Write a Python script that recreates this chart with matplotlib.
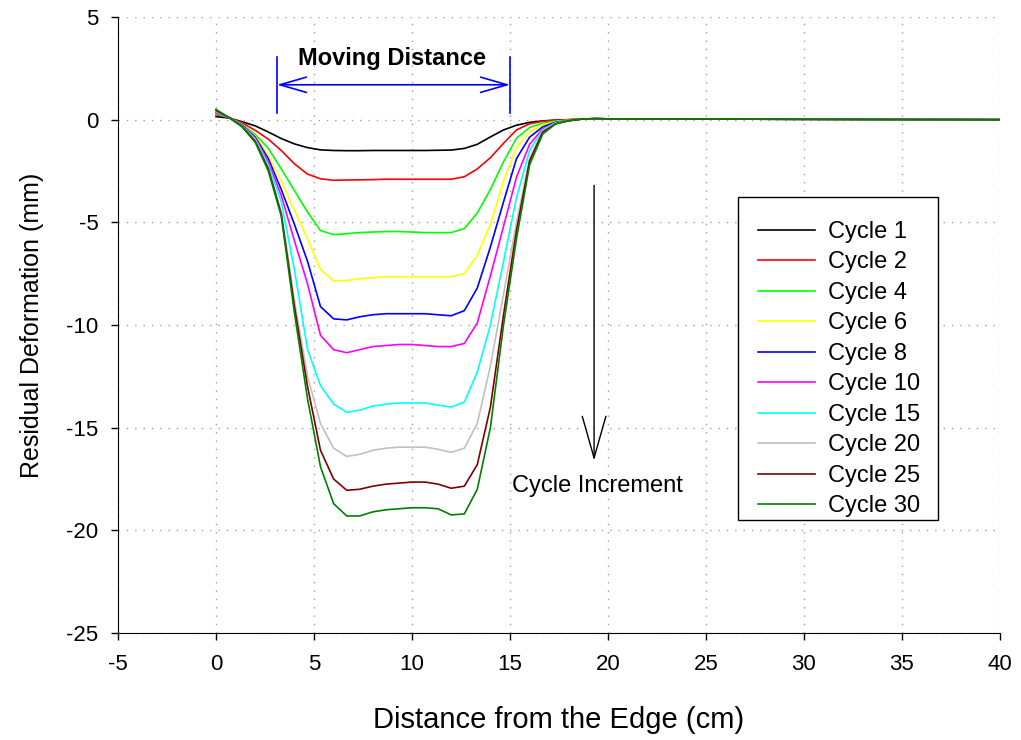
import matplotlib
matplotlib.use('agg')
import matplotlib.pyplot as plt
from matplotlib.patches import Rectangle

plt.rcParams['font.family'] = ['Liberation Sans', 'DejaVu Sans']
plt.rcParams['axes.unicode_minus'] = False

# distance from the edge (cm), one reading every 2/3 cm, plus the far end
dist = [0, 0.67, 1.33, 2, 2.67, 3.33, 4, 4.67, 5.33, 6, 6.67, 7.33, 8, 8.67,
        9.33, 10, 10.67, 11.33, 12, 12.67, 13.33, 14, 14.67, 15.33, 16, 16.67,
        17.33, 18, 18.67, 19.33, 20, 40]

labels = ['Cycle 1', 'Cycle 2', 'Cycle 4', 'Cycle 6', 'Cycle 8',
          'Cycle 10', 'Cycle 15', 'Cycle 20', 'Cycle 25', 'Cycle 30']
colors = ['#000000', '#ff0000', '#00ff00', '#ffff00', '#0000ff',
          '#ff00ff', '#00ffff', '#c0c0c0', '#800000', '#008000']

# residual deformation (mm)
cycle_1 = [0.15, 0.08, -0.1, -0.3, -0.6, -0.92, -1.18, -1.36, -1.47, -1.5, -1.51, -1.51,
           -1.5, -1.5, -1.5, -1.5, -1.5, -1.49, -1.48, -1.4, -1.2, -0.84, -0.5, -0.27,
           -0.13, -0.06, -0.02, 0.0, 0.03, 0.05, 0.04, 0.0]
cycle_2 = [0.25, 0.1, -0.15, -0.52, -0.95, -1.5, -2.15, -2.65, -2.88, -2.95, -2.94, -2.93,
           -2.92, -2.9, -2.9, -2.9, -2.9, -2.9, -2.9, -2.78, -2.4, -1.85, -1.15, -0.5,
           -0.2, -0.08, -0.03, 0.0, 0.03, 0.05, 0.04, 0.0]
cycle_4 = [0.3, 0.1, -0.22, -0.72, -1.4, -2.4, -3.45, -4.5, -5.4, -5.6, -5.55, -5.5,
           -5.47, -5.45, -5.45, -5.47, -5.5, -5.5, -5.5, -5.3, -4.55, -3.4, -2.05, -0.9,
           -0.38, -0.17, -0.07, -0.02, 0.03, 0.05, 0.04, 0.0]
cycle_6 = [0.32, 0.1, -0.24, -0.8, -1.75, -3.0, -4.4, -5.8, -7.3, -7.85, -7.83, -7.75,
           -7.7, -7.65, -7.65, -7.65, -7.65, -7.65, -7.65, -7.5, -6.6, -5.1, -3.0, -1.35,
           -0.6, -0.25, -0.1, -0.03, 0.03, 0.05, 0.04, 0.0]
cycle_8 = [0.35, 0.1, -0.26, -0.85, -1.9, -3.4, -5.1, -6.9, -9.1, -9.7, -9.75, -9.6,
           -9.5, -9.45, -9.45, -9.45, -9.45, -9.5, -9.55, -9.3, -8.2, -6.2, -4.0, -1.9,
           -0.85, -0.35, -0.12, -0.04, 0.03, 0.05, 0.04, 0.0]
cycle_10 = [0.38, 0.1, -0.28, -0.9, -2.05, -3.7, -5.9, -8.0, -10.5, -11.2, -11.35, -11.2,
            -11.05, -11.0, -10.95, -10.95, -11.0, -11.05, -11.05, -10.9, -9.9, -7.6, -5.2, -2.8,
            -1.2, -0.45, -0.15, -0.05, 0.03, 0.05, 0.04, 0.0]
cycle_15 = [0.4, 0.1, -0.3, -0.95, -2.2, -4.0, -7.3, -11.2, -12.95, -13.85, -14.25, -14.15,
            -13.95, -13.85, -13.8, -13.8, -13.8, -13.9, -14.0, -13.75, -12.3, -10.0, -6.9, -3.8,
            -1.5, -0.5, -0.15, -0.05, 0.03, 0.05, 0.04, 0.0]
cycle_20 = [0.42, 0.1, -0.32, -1.0, -2.35, -4.5, -8.8, -12.5, -14.8, -16.0, -16.4, -16.3,
            -16.1, -16.0, -15.95, -15.95, -15.95, -16.05, -16.2, -16.0, -14.8, -12.0, -8.5, -5.0,
            -1.9, -0.55, -0.18, -0.05, 0.03, 0.05, 0.04, 0.0]
cycle_25 = [0.45, 0.1, -0.33, -1.05, -2.4, -4.6, -9.1, -13.0, -16.1, -17.5, -18.05, -18.0,
            -17.85, -17.75, -17.7, -17.65, -17.65, -17.75, -17.95, -17.85, -16.8, -14.0, -9.5, -5.4,
            -2.0, -0.6, -0.2, -0.05, 0.03, 0.05, 0.04, 0.0]
cycle_30 = [0.5, 0.1, -0.35, -1.1, -2.5, -4.7, -9.4, -13.6, -16.9, -18.7, -19.3, -19.3,
            -19.1, -19.0, -18.95, -18.9, -18.9, -18.95, -19.25, -19.2, -18.0, -15.0, -10.0, -5.8,
            -2.2, -0.7, -0.2, -0.05, 0.03, 0.05, 0.04, 0.0]

series = [cycle_1, cycle_2, cycle_4, cycle_6, cycle_8,
          cycle_10, cycle_15, cycle_20, cycle_25, cycle_30]

fig = plt.figure(figsize=(10.21, 7.4), dpi=100)
ax = fig.add_axes([0.1156, 0.1446, 0.8638, 0.8324])

for vals, lab, col in zip(series, labels, colors):
    ax.plot(dist, vals, color=col, lw=1.2, label=lab)

ax.set_xlim(-5, 40)
ax.set_ylim(-25, 5)
ax.set_xticks(range(-5, 41, 5))
ax.set_yticks(range(-25, 6, 5))
ax.grid(True, linestyle=(0, (1, 5)), color='#a0a0a0', lw=1)
ax.set_axisbelow(True)
for side in ['top', 'right']:
    ax.spines[side].set_visible(False)
ax.tick_params(direction='out', length=5, width=1, labelsize=16)
ax.tick_params(axis='x', pad=10)
ax.tick_params(axis='y', pad=9)

ax.set_xlabel('Distance from the Edge (cm)', fontsize=21)
ax.set_ylabel('Residual Deformation (mm)', fontsize=18)
ax.xaxis.set_label_coords(0.5, -0.118)
ax.yaxis.set_label_coords(-0.084, 0.5)

# moving distance marker
ax.plot([3.11, 3.11], [0.34, 3.07], color='#0000ff', lw=1.2)
ax.plot([15.0, 15.0], [0.34, 3.07], color='#0000ff', lw=1.2)
ax.annotate('', xy=(15.0, 1.7), xytext=(3.11, 1.7),
            arrowprops=dict(arrowstyle='<->, head_length=1.9, head_width=0.55',
                            color='#0000ff', lw=1.2, shrinkA=0, shrinkB=0))
ax.text(9.0, 3.0, 'Moving Distance', fontsize=17, fontweight='bold',
        ha='center', va='center')

# cycle increment arrow
ax.annotate('', xy=(19.29, -16.6), xytext=(19.29, -3.2),
            arrowprops=dict(arrowstyle='->, head_length=3.0, head_width=0.85',
                            color='black', lw=1.0, shrinkA=0, shrinkB=0))
ax.text(15.1, -17.85, 'Cycle Increment', fontsize=17, ha='left', va='center')

# legend entries without their own frame; the box is drawn separately
leg = ax.legend(loc='upper left', bbox_to_anchor=(0.7256, 0.669), fontsize=17,
                frameon=False, borderaxespad=0, borderpad=0, handlelength=2.4,
                labelspacing=0.36, handletextpad=0.55)
ax.add_patch(Rectangle((0.703, 0.1834), 0.2268, 0.5244, transform=ax.transAxes,
                       facecolor='white', edgecolor='black', lw=1.0, zorder=4))
leg.set_zorder(5)

plt.savefig('out.png', dpi=100)
plt.close(fig)
